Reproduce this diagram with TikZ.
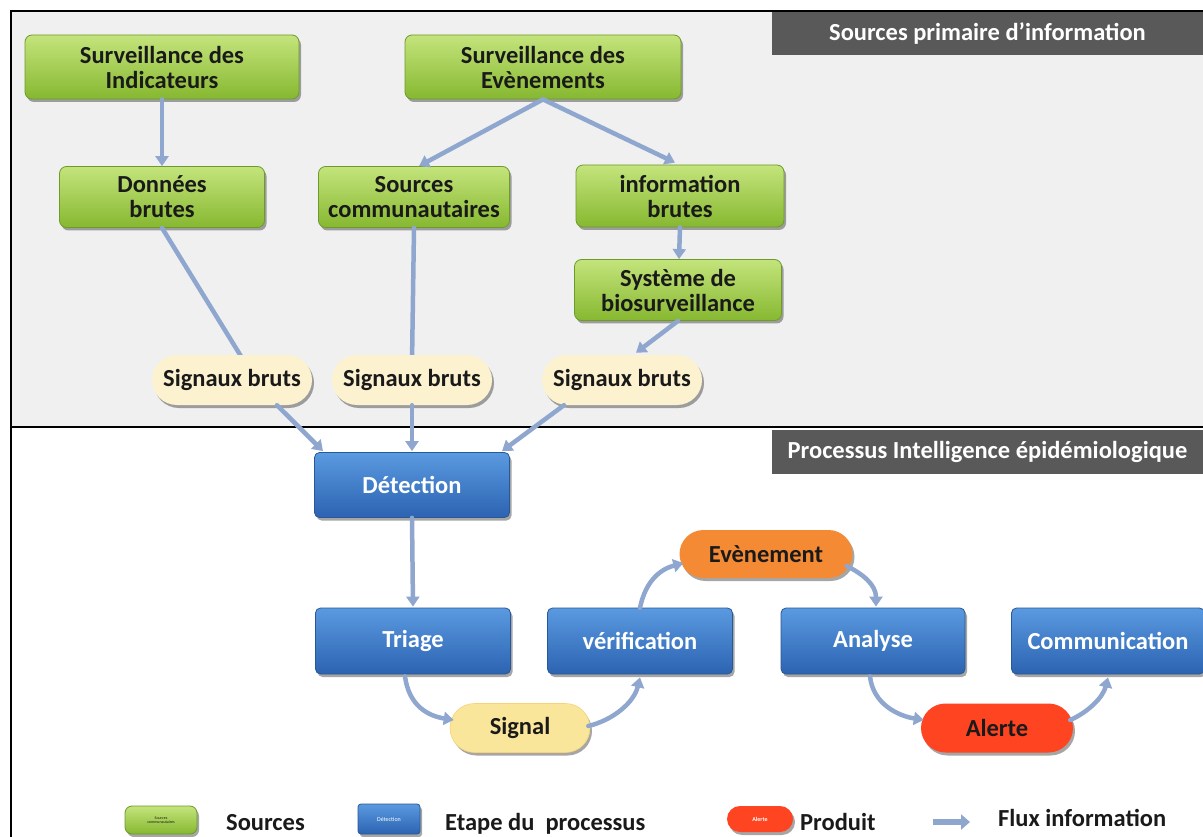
\documentclass[tikz,border=0pt]{standalone}
\usepackage{fontspec}
\setmainfont{Carlito}
\usetikzlibrary{arrows.meta,shadows,shapes.misc,calc}
\definecolor{gtop}{HTML}{C4E47C}
\definecolor{gbot}{HTML}{86B830}
\definecolor{gdraw}{HTML}{6E9A2C}
\definecolor{btop}{HTML}{5A9AE0}
\definecolor{bbot}{HTML}{2C63B2}
\definecolor{bdraw}{HTML}{2A5795}
\definecolor{cream}{HTML}{FDF2CF}
\definecolor{sigy}{HTML}{F9E69A}
\definecolor{orng}{HTML}{F58A35}
\definecolor{redc}{HTML}{FF4422}
\definecolor{flowc}{HTML}{8FA7CF}
\definecolor{hdr}{HTML}{595959}
\definecolor{panel}{HTML}{F0F0F0}
\definecolor{txt}{HTML}{1A1A1A}
\tikzset{
  shad/.style={drop shadow={shadow xshift=2pt,shadow yshift=-3pt,opacity=0.35,fill=black}},
  greenbox/.style={shad,rectangle,rounded corners=7pt,top color=gtop,bottom color=gbot,draw=gdraw,line width=0.8pt,
    align=center,inner sep=0pt,text=txt,font=\fontsize{24.5}{25}\selectfont\bfseries},
  bluebox/.style={shad,rectangle,rounded corners=5pt,top color=btop,bottom color=bbot,draw=bdraw,line width=0.8pt,
    align=center,inner sep=0pt,text=white,font=\fontsize{24.5}{25}\selectfont\bfseries},
  pill/.style={shad,rounded rectangle,inner sep=0pt,align=center,text=txt,font=\fontsize{24.5}{25}\selectfont\bfseries},
  header/.style={rectangle,fill=hdr,text=white,inner sep=0pt,minimum width=431pt,font=\fontsize{24.5}{25}\selectfont\bfseries},
  flow/.style={draw=flowc,line width=4.5pt,line cap=round,-{Triangle[length=10pt,width=13pt]}},
  flowhid/.style={draw=flowc,line width=4.5pt,line cap=round},
  legtxt/.style={anchor=base west,inner sep=0pt,text=txt,font=\fontsize{24.5}{25}\selectfont\bfseries},
}
\begin{document}
\begin{tikzpicture}[x=1pt,y=-1pt]
\useasboundingbox (0,0) rectangle (1203,837);
\fill[white] (0,0) rectangle (1203,837);
\fill[panel] (11,11) rectangle (1203,427);
\draw[line width=2pt] (11,837) -- (11,11) -- (1203,11);
\draw[line width=2pt] (11,427) -- (1203,427);

\node[header,minimum height=43pt] (h1) at (987.5,33.5) {Sources primaire d’information};
\node[header,minimum height=44pt] (h2) at (987.5,452) {Processus Intelligence épidémiologique};

% green source nodes
\node[greenbox,minimum width=274pt,minimum height=64pt] (si) at (162,67) {Surveillance des\\Indicateurs};
\node[greenbox,minimum width=276pt,minimum height=64pt] (se) at (543,67) {Surveillance des\\Evènements};
\node[greenbox,minimum width=205pt,minimum height=61pt] (db) at (162,197) {Données\\brutes};
\node[greenbox,minimum width=191pt,minimum height=61pt] (sc) at (414,197) {Sources\\communautaires};
\node[greenbox,minimum width=208pt,minimum height=62pt] (ib) at (680,196) {information\\brutes};
\node[greenbox,minimum width=207pt,minimum height=61pt] (sb) at (678,290) {Système de\\biosurveillance};

% arrows in the top panel (drawn before the pills)
\draw[flow] (si.south) -- (db.north);
\draw[flow] (se.south) -- ($(sc.north)+(5,0)$);
\draw[flow] (se.south) -- ($(ib.north)+(-5,-2)$);
\draw[flow] (ib.south) -- ($(sb.north)+(1,0)$);
\draw[flowhid] (db.south) -- ($(db.south)+(80,130)$);
\draw[flowhid] (sc.south) -- ($(sc.south)+(-2,135)$);

\node[pill,fill=cream,minimum width=160pt,minimum height=50pt] (s1) at (232,380) {Signaux bruts};
\node[pill,fill=cream,minimum width=160pt,minimum height=50pt] (s2) at (412,380) {Signaux bruts};
\node[pill,fill=cream,minimum width=160pt,minimum height=50pt] (s3) at (622,380) {Signaux bruts};

\draw[flow] (sb.south) -- ($(s3.north)+(14,-2)$);

% process nodes
\node[bluebox,minimum width=195pt,minimum height=65pt] (det) at (412,485) {Détection};
\node[bluebox,minimum width=195pt,minimum height=66pt] (tri) at (413,641) {Triage};
\node[bluebox,minimum width=185pt,minimum height=66pt] (ver) at (640,641) {vérification};
\node[bluebox,minimum width=184pt,minimum height=66pt] (ana) at (873,641) {Analyse};
\node[bluebox,minimum width=193pt,minimum height=66pt] (com) at (1108,641) {Communication};

\node[pill,fill=orng,minimum width=173pt,minimum height=48pt] (eve) at (766,554) {Evènement};
\node[pill,fill=sigy,draw=sigy!80!orange,line width=0.6pt,minimum width=140pt,minimum height=49pt] (sig) at (520,728) {Signal};
\node[pill,fill=redc,minimum width=152pt,minimum height=49pt] (ale) at (997,728) {Alerte};

\draw[flow] ($(s1.south)+(45,0)$) -- ($(det.north)+(-89,-1)$);
\draw[flow] (s2.south) -- ($(det.north)+(0,-1)$);
\draw[flow] ($(s3.south)+(-58,0)$) -- ($(det.north)+(90,-1)$);
\draw[flow] (det.south) -- ($(tri.north)+(0,-1)$);

\draw[flow] ($(tri.south)+(-8,2)$) .. controls +(4,30) and +(-25,-4) .. ($(sig.west)+(4,-8)$);
\draw[flow] ($(sig.east)+(-2,-2)$) .. controls +(25,-6) and +(-6,25) .. ($(ver.south)+(0,3)$);
\draw[flow] (ver.north) .. controls +(6,-28) and +(-22,6) .. ($(eve.west)+(4,9)$);
\draw[flow] ($(eve.east)+(-6,12)$) .. controls +(16,8) and +(0,-22) .. ($(ana.north)+(3,-1)$);
\draw[flow] ($(ana.south)+(-3,2)$) .. controls +(3,28) and +(-25,-4) .. ($(ale.west)+(3,-8)$);
\draw[flow] ($(ale.east)+(-3,-8)$) .. controls +(18,-8) and +(-5,20) .. ($(com.south)+(0,3)$);

% legend
\node[greenbox,minimum width=72pt,minimum height=28pt,font=\fontsize{4}{4.5}\selectfont] (lg) at (161,820) {Sources\\communautaires};
\node[legtxt] (lgt) at (226,830) {Sources};
\node[bluebox,minimum width=62pt,minimum height=30pt,font=\fontsize{6}{7}\selectfont,rounded corners=3pt] (lb) at (389,819) {Détection};
\node[legtxt] (lbt) at (445,830) {Etape du\ \ processus};
\node[pill,fill=redc,minimum width=66pt,minimum height=26pt,text=white,font=\fontsize{6}{7}\selectfont\bfseries] (lr) at (760,819) {Alerte};
\node[legtxt] (lrt) at (800,830) {Produit};
\coordinate (la1) at (933,822);
\coordinate (la2) at (970,822);
\draw[draw=flowc,line width=6pt,-{Triangle[length=9pt,width=15pt]}] (la1) -- (la2);
\node[legtxt] (lat) at (998,826) {Flux information};
\end{tikzpicture}
\end{document}
